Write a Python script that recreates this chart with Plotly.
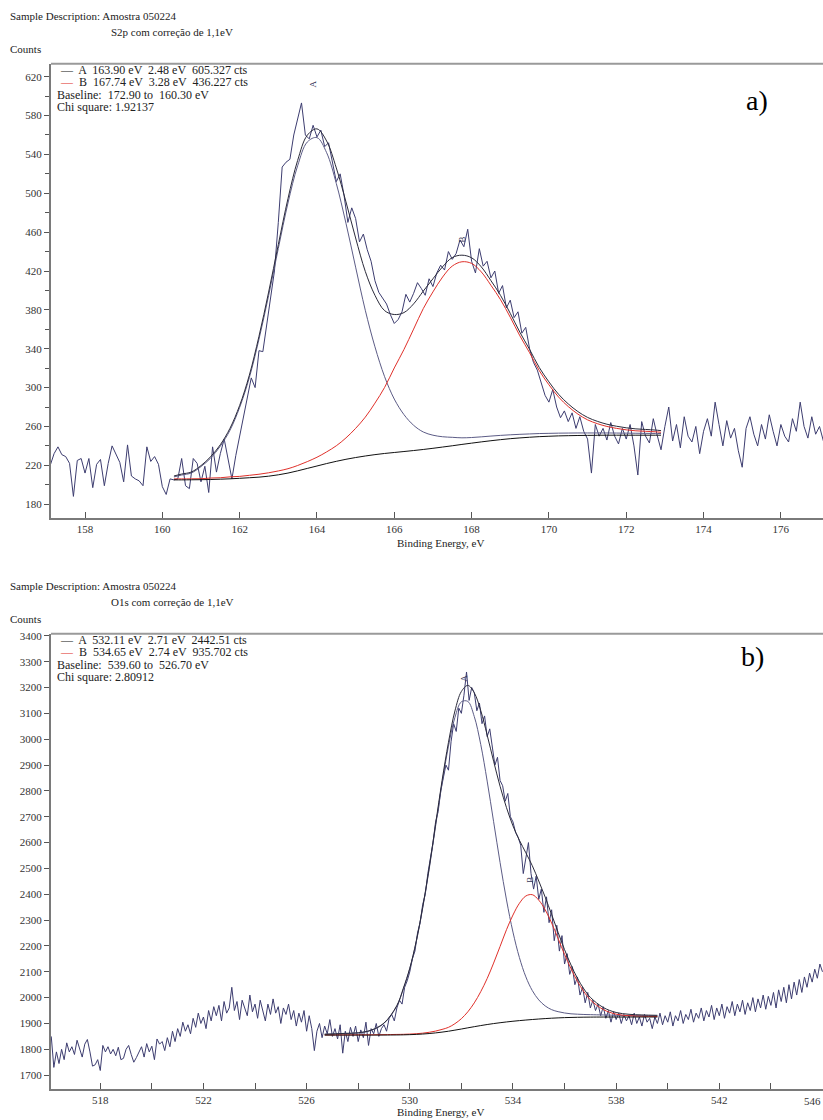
import plotly.graph_objects as go

W, H = 823, 1120

# ---------------- Panel a (S2p) ----------------
energy_a_start = 157.1
energy_step = 0.1
counts_a = [
    220, 232, 239, 231, 229, 222, 188, 225, 227,
    212, 227, 197, 221, 226, 199, 222, 240, 232, 223,
    203, 241, 209, 206, 204, 199, 239, 224, 229, 221,
    198, 190, 206, 205, 206, 227, 199, 196, 227, 222,
    203, 219, 192, 239, 213, 232, 247, 228, 206, 230,
    250, 272, 290, 310, 300, 338, 337, 365, 395, 420,
    470, 527, 532, 535, 560, 578, 593, 560, 556, 570,
    558, 565, 548, 552, 530, 512, 520, 498, 470, 485,
    474, 450, 458, 442, 430, 410, 398, 392, 386, 375,
    366, 370, 378, 396, 388, 397, 408, 402, 395, 412,
    404, 418, 426, 421, 440, 432, 438, 452, 445, 463,
    430, 418, 443, 425, 430, 413, 420, 397, 405, 382,
    390, 372, 378, 356, 362, 340, 326, 318, 305, 292,
    285, 298, 280, 269, 276, 265, 274, 258, 270, 255,
    247, 212, 262, 250, 258, 246, 264, 250, 242, 258,
    247, 262, 240, 210, 265, 250, 243, 268, 251, 236,
    260, 280, 245, 262, 238, 270, 250, 244, 260, 232,
    255, 268, 250, 285, 262, 240, 266, 248, 258, 235,
    218, 258, 270, 252, 240, 262, 247, 272, 255, 240,
    262, 250, 244, 268, 255, 285, 260, 248, 270, 252,
    260, 245,
]

fit_e_a = [160.3, 160.5, 160.75, 161.0, 161.25, 161.5, 161.75, 162.0, 162.25, 162.5,
           162.75, 163.0, 163.25, 163.5, 163.75, 164.0, 164.25, 164.5, 164.75, 165.0,
           165.25, 165.5, 165.75, 166.0, 166.25, 166.5, 166.75, 167.0, 167.25, 167.5,
           167.75, 168.0, 168.25, 168.5, 168.75, 169.0, 169.25, 169.5, 169.75, 170.0,
           170.25, 170.5, 170.75, 171.0, 171.25, 171.5, 171.75, 172.0, 172.25, 172.5,
           172.75, 172.9]
baseline_a = [205.0, 205.0, 205.1, 205.2, 205.4, 205.7, 206.1, 206.6, 207.2, 207.8,
              208.8, 210.2, 212.0, 214.3, 216.8, 219.3, 221.8, 224.1, 226.2, 228.0,
              229.6, 231.0, 232.2, 233.2, 234.2, 235.2, 236.3, 237.5, 238.8, 240.1,
              241.5, 242.8, 244.1, 245.3, 246.4, 247.4, 248.2, 248.9, 249.5, 249.9,
              250.3, 250.5, 250.7, 250.8, 250.9, 251.0, 251.0, 251.0, 251.0, 251.0,
              251.0, 251.0]
peak_a_A = [208.0, 210.0, 212.1, 218.7, 227.4, 239.7, 256.1, 279.6, 310.2, 349.8,
            394.8, 443.2, 490.0, 528.3, 552.8, 557.3, 541.8, 510.1, 469.2, 424.0,
            379.6, 342.0, 311.2, 288.2, 272.2, 261.2, 254.3, 251.0, 249.4, 248.8,
            248.3, 248.6, 249.3, 250.1, 250.8, 251.4, 251.9, 252.3, 252.7, 252.9,
            253.1, 253.2, 253.3, 253.3, 253.3, 253.3, 253.2, 253.1, 253.0, 252.9,
            252.8, 252.7]
peak_a_B = [206.0, 206.0, 206.1, 206.2, 206.9, 207.2, 208.1, 208.6, 209.7, 210.8,
            212.3, 214.2, 216.5, 219.8, 223.8, 228.3, 233.8, 240.1, 248.2, 258.0,
            269.6, 284.0, 300.2, 320.2, 339.2, 360.2, 381.3, 398.5, 413.8, 425.1,
            429.5, 427.8, 419.1, 405.3, 390.4, 372.4, 353.2, 335.9, 317.5, 302.9,
            290.3, 280.5, 272.7, 266.8, 262.9, 260.0, 258.0, 256.5, 255.5, 255.0,
            254.5, 254.0]
envelope_a = [209.0, 211.0, 213.1, 219.7, 228.9, 241.2, 258.1, 281.6, 312.7, 352.8,
              398.3, 447.2, 494.5, 533.8, 559.8, 566.3, 553.8, 526.1, 491.2, 454.0,
              419.6, 395.0, 379.2, 375.2, 377.2, 386.2, 399.3, 412.0, 424.4, 433.8,
              436.3, 433.6, 424.3, 410.1, 394.8, 376.4, 356.9, 339.3, 320.7, 305.9,
              293.1, 283.2, 275.3, 269.3, 265.3, 262.3, 260.2, 258.6, 257.5, 256.9,
              256.3, 255.7]

# ---------------- Panel b (O1s) ----------------
energy_b_start = 516.1
counts_b = [
    1850, 1730, 1790, 1745, 1800, 1760, 1825, 1790, 1810,
    1780, 1835, 1800, 1770, 1820, 1838, 1790, 1735, 1740, 1760,
    1718, 1815, 1790, 1810, 1782, 1800, 1775, 1808, 1760, 1765,
    1800, 1815, 1780, 1750, 1768, 1790, 1810, 1770, 1822, 1790,
    1812, 1760, 1840, 1820, 1830, 1795, 1845, 1810, 1870, 1830,
    1880, 1850, 1905, 1870, 1895, 1860, 1920, 1885, 1940, 1900,
    1925, 1880, 1950, 1910, 1965, 1930, 1970, 1910, 1985, 1940,
    1960, 2040, 1950, 1985, 1915, 1990, 1960, 1930, 2010, 1945,
    1975, 1920, 1990, 1950, 1910, 1975, 1935, 1995, 1940, 1965,
    1900, 1960, 1935, 1975, 1915, 1950, 1890, 1940, 1905, 1950,
    1870, 1930, 1880, 1795, 1870, 1900, 1845, 1890, 1860, 1915,
    1850, 1880, 1840, 1895, 1785, 1870, 1830, 1885, 1850, 1890,
    1830, 1875, 1845, 1905, 1815, 1880, 1860, 1900, 1850, 1880,
    1895, 1870, 1920, 1935, 1910, 1960, 1990, 1975, 2040, 2065,
    2100, 2150, 2180, 2250, 2290, 2360, 2400, 2480, 2540, 2600,
    2680, 2720, 2800, 2850, 2900, 2880, 2990, 3060, 3030, 3120,
    3100, 3170, 3260, 3150, 3200, 3180, 3110, 3140, 3060, 3090,
    3010, 3040, 2960, 2900, 2930, 2840, 2820, 2760, 2790, 2700,
    2680, 2640, 2620, 2590, 2480, 2550, 2600, 2480, 2420, 2470,
    2380, 2420, 2330, 2390, 2290, 2340, 2220, 2280, 2180, 2240,
    2130, 2170, 2090, 2120, 2050, 2080, 2010, 2040, 1980, 2020,
    1960, 1990, 1950, 1975, 1930, 1965, 1920, 1950, 1905, 1945,
    1915, 1940, 1900, 1935, 1910, 1930, 1895, 1940, 1900, 1925,
    1890, 1935, 1905, 1920, 1880, 1925, 1900, 1940, 1895, 1930,
    1905, 1945, 1890, 1930, 1910, 1950, 1900, 1935, 1915, 1955,
    1905, 1940, 1920, 1960, 1910, 1950, 1925, 1970, 1915, 1960,
    1930, 1975, 1920, 1965, 1940, 1985, 1930, 1975, 1945, 1990,
    1935, 1980, 1950, 2000, 1945, 1995, 1960, 2010, 1955, 2005,
    1970, 2020, 1960, 2030, 1985, 2040, 1980, 2050, 1995, 2060,
    2010, 2070, 2020, 2080, 2040, 2095, 2060, 2110, 2075, 2130,
    2100,
]

fit_e_b = [526.7, 527.0, 527.5, 528.0, 528.5, 529.0, 529.5, 529.75, 530.0, 530.25,
           530.5, 530.75, 531.0, 531.25, 531.5, 531.75, 532.0, 532.25, 532.5, 532.75,
           533.0, 533.25, 533.5, 533.75, 534.0, 534.25, 534.5, 534.75, 535.0, 535.25,
           535.5, 535.75, 536.0, 536.25, 536.5, 536.75, 537.0, 537.5, 538.0, 538.5,
           539.0, 539.6]
baseline_b = [1855.0, 1855.0, 1855.0, 1855.0, 1855.0, 1855.2, 1855.6, 1856.0, 1856.7, 1857.7,
              1859.1, 1861.0, 1863.5, 1866.5, 1870.0, 1874.2, 1878.5, 1883.1, 1887.6, 1891.9,
              1895.9, 1899.6, 1902.9, 1905.9, 1908.6, 1911.0, 1913.3, 1915.3, 1917.2, 1918.9,
              1920.4, 1921.6, 1922.6, 1923.3, 1923.9, 1924.3, 1924.6, 1924.9, 1925.0, 1925.0,
              1925.0, 1925.0]
peak_b_A = [1858.0, 1859.0, 1861.0, 1863.0, 1873.0, 1900.2, 1967.6, 2034.0, 2111.7, 2215.7,
            2346.1, 2496.0, 2663.5, 2828.5, 2973.0, 3084.2, 3144.5, 3146.1, 3087.6, 2979.9,
            2837.9, 2680.6, 2522.9, 2377.9, 2253.6, 2155.0, 2080.3, 2027.3, 1991.2, 1967.9,
            1953.4, 1945.6, 1940.6, 1937.3, 1935.9, 1934.8, 1934.1, 1932.9, 1931.5, 1930.5,
            1930.0, 1929.5]
peak_b_B = [1855.5, 1855.6, 1855.8, 1856.0, 1856.2, 1856.7, 1857.6, 1858.0, 1858.9, 1860.3,
            1862.4, 1865.8, 1870.5, 1877.0, 1885.0, 1899.2, 1918.5, 1945.1, 1979.6, 2022.9,
            2073.9, 2133.6, 2197.9, 2262.9, 2319.6, 2365.0, 2393.3, 2398.3, 2377.2, 2339.9,
            2288.4, 2228.6, 2167.6, 2112.3, 2062.9, 2023.3, 1991.6, 1953.9, 1936.0, 1930.0,
            1928.0, 1927.0]
envelope_b = [1858.5, 1859.6, 1861.8, 1864.0, 1874.2, 1901.7, 1969.6, 2036.0, 2113.9, 2218.3,
              2349.4, 2500.8, 2670.5, 2839.0, 2988.0, 3109.2, 3184.5, 3208.1, 3179.6, 3110.9,
              3015.9, 2914.6, 2817.9, 2734.9, 2664.6, 2609.0, 2560.3, 2510.3, 2451.2, 2388.9,
              2321.4, 2252.6, 2185.6, 2126.3, 2074.9, 2033.8, 2001.1, 1961.9, 1942.5, 1935.5,
              1933.0, 1931.5]

energy_a = [round(energy_a_start + energy_step * i, 2) for i in range(len(counts_a))]
energy_b = [round(energy_b_start + energy_step * i, 2) for i in range(len(counts_b))]

DATA_COL = "#3d3d70"
COMP_COL = "#5c5c86"
ENV_COL = "#2a2a3a"
BASE_COL = "#111111"
RED = "#e0302a"
FONT = "Liberation Serif"

fig = go.Figure()

def add_panel(xs, ys, fe, base, pA, pB, env, xa, ya):
    fig.add_trace(go.Scatter(x=xs, y=ys, mode="lines", line=dict(color=DATA_COL, width=1),
                             xaxis=xa, yaxis=ya, hoverinfo="skip"))
    fig.add_trace(go.Scatter(x=fe, y=pA, mode="lines", line=dict(color=COMP_COL, width=1, shape="spline"),
                             xaxis=xa, yaxis=ya, hoverinfo="skip"))
    fig.add_trace(go.Scatter(x=fe, y=pB, mode="lines", line=dict(color=RED, width=1, shape="spline"),
                             xaxis=xa, yaxis=ya, hoverinfo="skip"))
    fig.add_trace(go.Scatter(x=fe, y=env, mode="lines", line=dict(color=ENV_COL, width=1, shape="spline"),
                             xaxis=xa, yaxis=ya, hoverinfo="skip"))
    fig.add_trace(go.Scatter(x=fe, y=base, mode="lines", line=dict(color=BASE_COL, width=1, shape="spline"),
                             xaxis=xa, yaxis=ya, hoverinfo="skip"))

add_panel(energy_a, counts_a, fit_e_a, baseline_a, peak_a_A, peak_a_B, envelope_a, "x", "y")
add_panel(energy_b, counts_b, fit_e_b, baseline_b, peak_b_A, peak_b_B, envelope_b, "x2", "y2")

def px(x):
    return x / W

def py(y):
    return 1 - y / H

left = 51
a_top, a_bot = 60, 516
b_top, b_bot = 632, 1089

tickfont = dict(family=FONT, size=11, color="#333333")
axis_line = dict(showline=True, linecolor="#7a7a7a", linewidth=2, showgrid=False, zeroline=False)

fig.update_layout(
    width=W, height=H, margin=dict(l=0, r=0, t=0, b=0),
    paper_bgcolor="white", plot_bgcolor="white", showlegend=False,
    xaxis=dict(domain=[px(left), 1.0], range=[157.12, 177.09], anchor="y",
               tickmode="linear", tick0=158, dtick=2, ticks="inside", ticklen=6,
               tickcolor="#555555", tickfont=tickfont, **axis_line),
    yaxis=dict(domain=[py(a_bot), py(a_top)], range=[165.6, 633.3], anchor="x",
               tickmode="linear", tick0=180, dtick=40, ticks="outside", ticklen=5,
               tickcolor="#555555", tickfont=tickfont,
               minor=dict(tick0=160, dtick=20, ticks="outside", ticklen=4, tickcolor="#555555"),
               **axis_line),
    xaxis2=dict(domain=[px(left), 1.0], range=[516.09, 546.02], anchor="y2",
                tickmode="linear", tick0=518, dtick=4, ticks="inside", ticklen=6,
                tickcolor="#555555", tickfont=tickfont,
                minor=dict(tick0=516, dtick=2, ticks="inside", ticklen=6, tickcolor="#555555"),
                **axis_line),
    yaxis2=dict(domain=[py(b_bot), py(b_top)], range=[1646, 3408], anchor="x2",
                tickmode="linear", tick0=1700, dtick=100, ticks="outside", ticklen=5,
                tickcolor="#555555", tickfont=tickfont, **axis_line),
)

# top frame lines
for top in (a_top, b_top):
    fig.add_shape(type="line", xref="paper", yref="paper", x0=px(left), x1=1.0,
                  y0=py(top), y1=py(top), line=dict(color="#9a9a9a", width=2))

def text(x, y, s, size=11, color="#222222", anchor="left", angle=0):
    fig.add_annotation(x=px(x), y=py(y), xref="paper", yref="paper", text=s, showarrow=False,
                       xanchor=anchor, yanchor="middle", textangle=angle,
                       font=dict(family=FONT, size=size, color=color))

def header(y0, line2, top, legA, legB, base_txt, chi_txt, x_title_y):
    text(8, y0, "Sample Description: Amostra 050224")
    text(109, y0 + 16, line2)
    text(8, y0 + 33, "Counts")
    text(58, top + 6, "<span style='color:#111'>—</span>  A  " + legA, size=12)
    text(58, top + 18.5, "<span style='color:" + RED + "'>—</span>  B  " + legB, size=12)
    text(55, top + 31, base_txt, size=12)
    text(55, top + 43.5, chi_txt, size=12)
    text(440, x_title_y, "Binding Energy, eV", anchor="center")

header(12, "S2p com correção de 1,1eV", a_top,
       "163.90 eV  2.48 eV  605.327 cts", "167.74 eV  3.28 eV  436.227 cts",
       "Baseline:  172.90 to  160.30 eV", "Chi square: 1.92137", 541)
header(584, "O1s com correção de 1,1eV", b_top,
       "532.11 eV  2.71 eV  2442.51 cts", "534.65 eV  2.74 eV  935.702 cts",
       "Baseline:  539.60 to  526.70 eV", "Chi square: 2.80912", 1112)

text(757, 97, "a)", size=28, color="#000000", anchor="center")
text(752, 655, "b)", size=28, color="#000000", anchor="center")

# last tick label of panel b, kept fully inside the page at its right edge
fig.add_annotation(x=1.0, y=py(b_bot + 12), xref="paper", yref="paper", text="546", showarrow=False,
                   xanchor="right", yanchor="middle", font=tickfont)

# peak markers
fig.add_annotation(x=163.9, y=612, xref="x", yref="y", text="A", showarrow=False, textangle=-90,
                   font=dict(family=FONT, size=9, color="#333355"))
fig.add_annotation(x=167.74, y=452, xref="x", yref="y", text="B", showarrow=False, textangle=-90,
                   font=dict(family=FONT, size=9, color="#333355"))
fig.add_annotation(x=532.11, y=3235, xref="x2", yref="y2", text="A", showarrow=False, textangle=-90,
                   font=dict(family=FONT, size=9, color="#333355"))
fig.add_annotation(x=534.65, y=2455, xref="x2", yref="y2", text="B", showarrow=False, textangle=-90,
                   font=dict(family=FONT, size=9, color="#333355"))

fig.write_html("out.html")
